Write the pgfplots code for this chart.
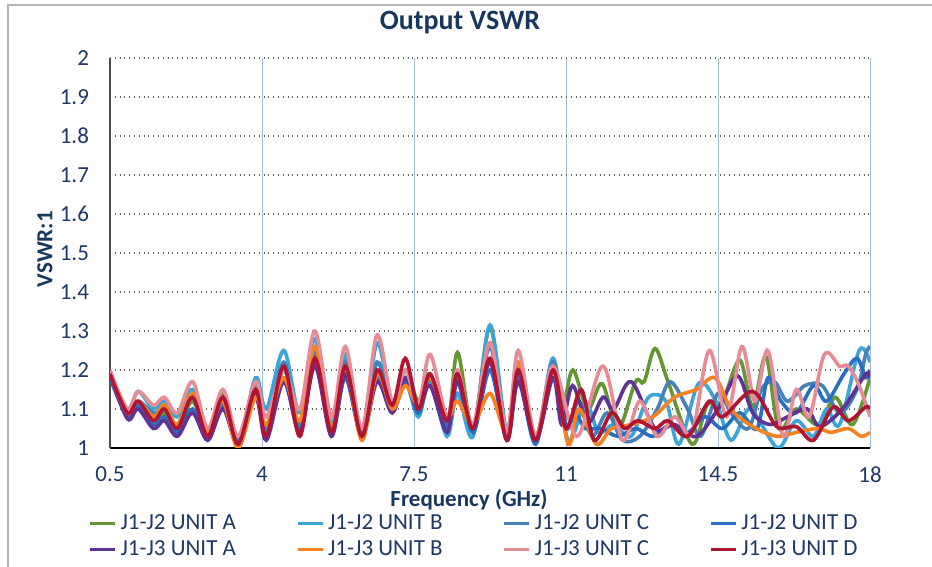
\documentclass[border=0pt]{standalone}
\usepackage{fontspec}
\setmainfont{Carlito}
\usepackage{pgfplots}
\pgfplotsset{compat=1.18}
\definecolor{txt}{RGB}{31,56,100}
\definecolor{ttl}{RGB}{23,55,94}
\definecolor{cA2}{RGB}{100,150,50}
\definecolor{cB2}{RGB}{60,165,215}
\definecolor{cC2}{RGB}{70,130,185}
\definecolor{cD2}{RGB}{40,110,195}
\definecolor{cA3}{RGB}{95,50,150}
\definecolor{cB3}{RGB}{245,130,30}
\definecolor{cC3}{RGB}{230,140,150}
\definecolor{cD3}{RGB}{175,20,50}
\definecolor{vgrid}{RGB}{165,188,208}
\begin{document}
\begin{tikzpicture}
\useasboundingbox (0,0) rectangle (466pt,283.5pt);
\draw[gray!60, line width=0.6pt] (4pt,0) -- (4pt,281pt) -- (466pt,281pt);
\begin{axis}[
  at={(55pt,59.5pt)}, anchor=south west,
  scale only axis, width=380pt, height=195pt,
  xmin=0.5, xmax=18, ymin=1, ymax=2,
  xtick={0.5,4,7.5,11,14.5,18},
  xticklabels={0.5,4,7.5,11,14.5,18},
  ytick={1,1.1,1.2,1.3,1.4,1.5,1.6,1.7,1.8,1.9,2},
  yticklabels={1,1.1,1.2,1.3,1.4,1.5,1.6,1.7,1.8,1.9,2},
  axis x line*=bottom, axis y line*=left,
  axis line style={-},
  x axis line style={black, line width=1pt},
  y axis line style={black!70, line width=0.6pt},
  major tick length=0pt,
  xmajorgrids, ymajorgrids,
  x grid style={vgrid, line width=0.5pt},
  y grid style={black!60, dotted, line width=0.8pt},
  /pgf/number format/assume math mode=true,
  tick label style={font=\fontsize{11.5}{13}\selectfont, text=txt},
  xticklabel style={yshift=-6pt},
  yticklabel style={xshift=-7pt},
  title={Output VSWR},
  title style={font=\bfseries\fontsize{14}{16}\selectfont, text=ttl, at={(axis description cs:0.5,1)}, anchor=center, xshift=-15pt, yshift=11.5pt},
  xlabel={Frequency (GHz)},
  xlabel style={font=\bfseries\fontsize{11.5}{13}\selectfont, text=ttl, at={(axis description cs:0.5,0)}, anchor=center, xshift=-10.5pt, yshift=-26pt},
  ylabel={VSWR:1},
  ylabel style={font=\bfseries\fontsize{11.5}{13}\selectfont, text=ttl, at={(axis description cs:-0.0855,0.51)}, anchor=center},
  legend columns=4,
  legend cell align=left,
  legend style={at={(axis description cs:0,0)}, anchor=north west, xshift=-11pt, yshift=-31pt,
    draw=none, fill=none, inner sep=0pt, font=\fontsize{11.5}{13}\selectfont, text=txt,
    /tikz/every even column/.append style={column sep=28pt}, row sep=0pt},
  legend image code/.code={\draw[#1, line width=1.6pt] (0pt,0pt) -- (12.5pt,0pt);},
  every axis plot/.append style={line width=1.8pt, smooth, tension=0.55, no markers},
]
\addplot[cA2] coordinates {(0.5,1.19)(0.9,1.085)(1.15,1.12)(1.5,1.07)(1.75,1.09)(2.05,1.05)(2.4,1.12)(2.75,1.04)(3.1,1.14)(3.45,1.02)(3.85,1.15)(4.1,1.04)(4.5,1.20)(4.87,1.06)(5.22,1.24)(5.6,1.05)(5.92,1.23)(6.3,1.04)(6.65,1.22)(7.0,1.11)(7.3,1.20)(7.6,1.12)(7.87,1.19)(8.26,1.05)(8.5,1.245)(8.86,1.05)(9.25,1.31)(9.64,1.03)(9.9,1.22)(10.3,1.03)(10.7,1.21)(10.93,1.115)(11.16,1.20)(11.5,1.10)(11.83,1.165)(12.2,1.05)(12.6,1.17)(12.8,1.17)(13.05,1.255)(13.35,1.17)(13.9,1.01)(14.25,1.11)(14.6,1.12)(15.0,1.225)(15.3,1.105)(15.6,1.235)(15.9,1.05)(16.3,1.10)(16.8,1.06)(17.2,1.13)(17.6,1.06)(18,1.18)};
\addlegendentry{J1-J2 UNIT A}
\addplot[cB2] coordinates {(0.5,1.19)(0.9,1.10)(1.15,1.145)(1.5,1.10)(1.75,1.12)(2.05,1.08)(2.4,1.15)(2.75,1.03)(3.1,1.13)(3.45,1.01)(3.85,1.18)(4.1,1.10)(4.5,1.25)(4.87,1.09)(5.22,1.28)(5.6,1.06)(5.92,1.24)(6.3,1.03)(6.65,1.27)(7.0,1.10)(7.3,1.17)(7.6,1.08)(7.87,1.17)(8.26,1.03)(8.5,1.14)(8.86,1.03)(9.25,1.315)(9.64,1.04)(9.9,1.20)(10.3,1.02)(10.7,1.23)(11.05,1.02)(11.45,1.115)(11.75,1.04)(12.1,1.06)(12.5,1.03)(12.9,1.13)(13.3,1.12)(13.6,1.01)(14.05,1.165)(14.45,1.12)(14.8,1.02)(15.2,1.10)(15.5,1.06)(15.9,1.00)(16.3,1.07)(16.7,1.03)(17.0,1.10)(17.3,1.06)(17.75,1.25)(18,1.22)};
\addlegendentry{J1-J2 UNIT B}
\addplot[cC2] coordinates {(0.5,1.18)(0.9,1.09)(1.15,1.12)(1.5,1.09)(1.75,1.10)(2.05,1.06)(2.4,1.13)(2.75,1.03)(3.1,1.12)(3.45,1.02)(3.85,1.16)(4.1,1.05)(4.5,1.22)(4.87,1.05)(5.22,1.25)(5.6,1.04)(5.92,1.22)(6.3,1.03)(6.65,1.22)(7.0,1.10)(7.3,1.18)(7.6,1.10)(7.87,1.18)(8.26,1.06)(8.5,1.17)(8.86,1.05)(9.25,1.26)(9.64,1.03)(9.9,1.19)(10.3,1.02)(10.7,1.22)(11.0,1.05)(11.3,1.12)(11.6,1.03)(11.95,1.09)(12.3,1.02)(12.7,1.03)(13.1,1.10)(13.4,1.17)(13.8,1.10)(14.1,1.03)(14.5,1.14)(14.8,1.09)(15.2,1.05)(15.5,1.15)(15.8,1.17)(16.1,1.12)(16.5,1.16)(16.9,1.16)(17.3,1.09)(17.7,1.15)(17.9,1.24)(18,1.26)};
\addlegendentry{J1-J2 UNIT C}
\addplot[cD2] coordinates {(0.5,1.18)(0.9,1.08)(1.15,1.11)(1.5,1.06)(1.75,1.08)(2.05,1.04)(2.4,1.10)(2.75,1.02)(3.1,1.11)(3.45,1.01)(3.85,1.14)(4.1,1.03)(4.5,1.18)(4.87,1.04)(5.22,1.22)(5.6,1.04)(5.92,1.18)(6.3,1.03)(6.65,1.18)(7.0,1.10)(7.3,1.17)(7.6,1.09)(7.87,1.18)(8.26,1.05)(8.5,1.19)(8.86,1.04)(9.25,1.20)(9.64,1.02)(9.9,1.18)(10.3,1.01)(10.7,1.21)(11.0,1.06)(11.2,1.09)(11.45,1.05)(11.8,1.05)(12.2,1.03)(12.6,1.05)(13.0,1.03)(13.4,1.06)(13.8,1.04)(14.2,1.08)(14.6,1.05)(15.0,1.09)(15.4,1.05)(15.65,1.18)(15.95,1.12)(16.3,1.09)(16.7,1.16)(17.0,1.12)(17.4,1.19)(17.7,1.23)(17.9,1.18)(18,1.20)};
\addlegendentry{J1-J2 UNIT D}
\addplot[cA3] coordinates {(0.5,1.19)(0.9,1.075)(1.15,1.10)(1.5,1.05)(1.75,1.07)(2.05,1.03)(2.4,1.09)(2.75,1.02)(3.1,1.10)(3.45,1.01)(3.85,1.13)(4.1,1.02)(4.5,1.17)(4.87,1.04)(5.22,1.21)(5.6,1.03)(5.92,1.19)(6.3,1.03)(6.65,1.17)(7.0,1.09)(7.3,1.18)(7.6,1.10)(7.87,1.16)(8.26,1.04)(8.5,1.17)(8.86,1.05)(9.25,1.22)(9.64,1.02)(9.9,1.17)(10.3,1.02)(10.7,1.18)(10.9,1.06)(11.15,1.16)(11.5,1.065)(11.85,1.13)(12.1,1.10)(12.5,1.17)(13.05,1.05)(13.5,1.06)(14.0,1.03)(14.5,1.10)(14.95,1.185)(15.3,1.09)(15.7,1.06)(16.1,1.08)(16.55,1.10)(16.85,1.055)(17.4,1.105)(17.9,1.19)(18,1.18)};
\addlegendentry{J1-J3 UNIT A}
\addplot[cB3] coordinates {(0.5,1.19)(0.9,1.09)(1.15,1.12)(1.5,1.08)(1.75,1.11)(2.05,1.06)(2.4,1.14)(2.75,1.04)(3.1,1.12)(3.45,1.00)(3.85,1.13)(4.1,1.06)(4.5,1.18)(4.87,1.07)(5.22,1.26)(5.6,1.05)(5.92,1.21)(6.3,1.02)(6.65,1.19)(7.0,1.10)(7.3,1.16)(7.6,1.11)(7.87,1.18)(8.26,1.08)(8.5,1.12)(8.86,1.06)(9.25,1.14)(9.64,1.04)(9.9,1.22)(10.3,1.03)(10.7,1.20)(11.05,1.01)(11.3,1.10)(11.7,1.01)(12.05,1.05)(12.5,1.06)(13.0,1.08)(13.5,1.13)(14.0,1.15)(14.43,1.18)(14.8,1.10)(15.3,1.055)(15.85,1.03)(16.3,1.04)(16.8,1.05)(17.1,1.04)(17.5,1.05)(17.8,1.03)(18,1.04)};
\addlegendentry{J1-J3 UNIT B}
\addplot[cC3] coordinates {(0.5,1.20)(0.9,1.10)(1.15,1.145)(1.5,1.11)(1.75,1.13)(2.05,1.09)(2.4,1.17)(2.75,1.05)(3.1,1.15)(3.45,1.03)(3.85,1.17)(4.1,1.08)(4.5,1.20)(4.87,1.10)(5.22,1.30)(5.6,1.08)(5.92,1.26)(6.3,1.05)(6.65,1.29)(7.0,1.12)(7.3,1.20)(7.6,1.11)(7.87,1.24)(8.26,1.08)(8.5,1.20)(8.86,1.06)(9.25,1.27)(9.64,1.04)(9.9,1.25)(10.3,1.03)(10.7,1.21)(11.25,1.03)(11.85,1.21)(12.3,1.02)(12.7,1.12)(13.1,1.03)(13.5,1.08)(13.9,1.04)(14.3,1.25)(14.7,1.08)(15.05,1.26)(15.35,1.12)(15.65,1.25)(16.0,1.03)(16.3,1.15)(16.6,1.08)(16.95,1.24)(17.3,1.21)(17.5,1.21)(17.75,1.16)(18,1.08)};
\addlegendentry{J1-J3 UNIT C}
\addplot[cD3] coordinates {(0.5,1.19)(0.9,1.09)(1.15,1.12)(1.5,1.07)(1.75,1.10)(2.05,1.05)(2.4,1.13)(2.75,1.03)(3.1,1.13)(3.45,1.01)(3.85,1.15)(4.1,1.03)(4.5,1.21)(4.87,1.03)(5.22,1.23)(5.6,1.04)(5.92,1.21)(6.3,1.03)(6.65,1.20)(7.0,1.11)(7.3,1.23)(7.6,1.10)(7.87,1.19)(8.26,1.07)(8.5,1.19)(8.86,1.05)(9.25,1.23)(9.64,1.02)(9.9,1.20)(10.3,1.02)(10.7,1.20)(11.0,1.05)(11.35,1.15)(11.65,1.02)(12.05,1.09)(12.35,1.05)(12.65,1.07)(13.05,1.05)(13.35,1.07)(13.8,1.03)(14.3,1.12)(14.6,1.08)(15.3,1.145)(15.85,1.055)(16.3,1.055)(16.7,1.02)(17.15,1.105)(17.5,1.07)(17.9,1.105)(18,1.10)};
\addlegendentry{J1-J3 UNIT D}
\end{axis}
\end{tikzpicture}
\end{document}
